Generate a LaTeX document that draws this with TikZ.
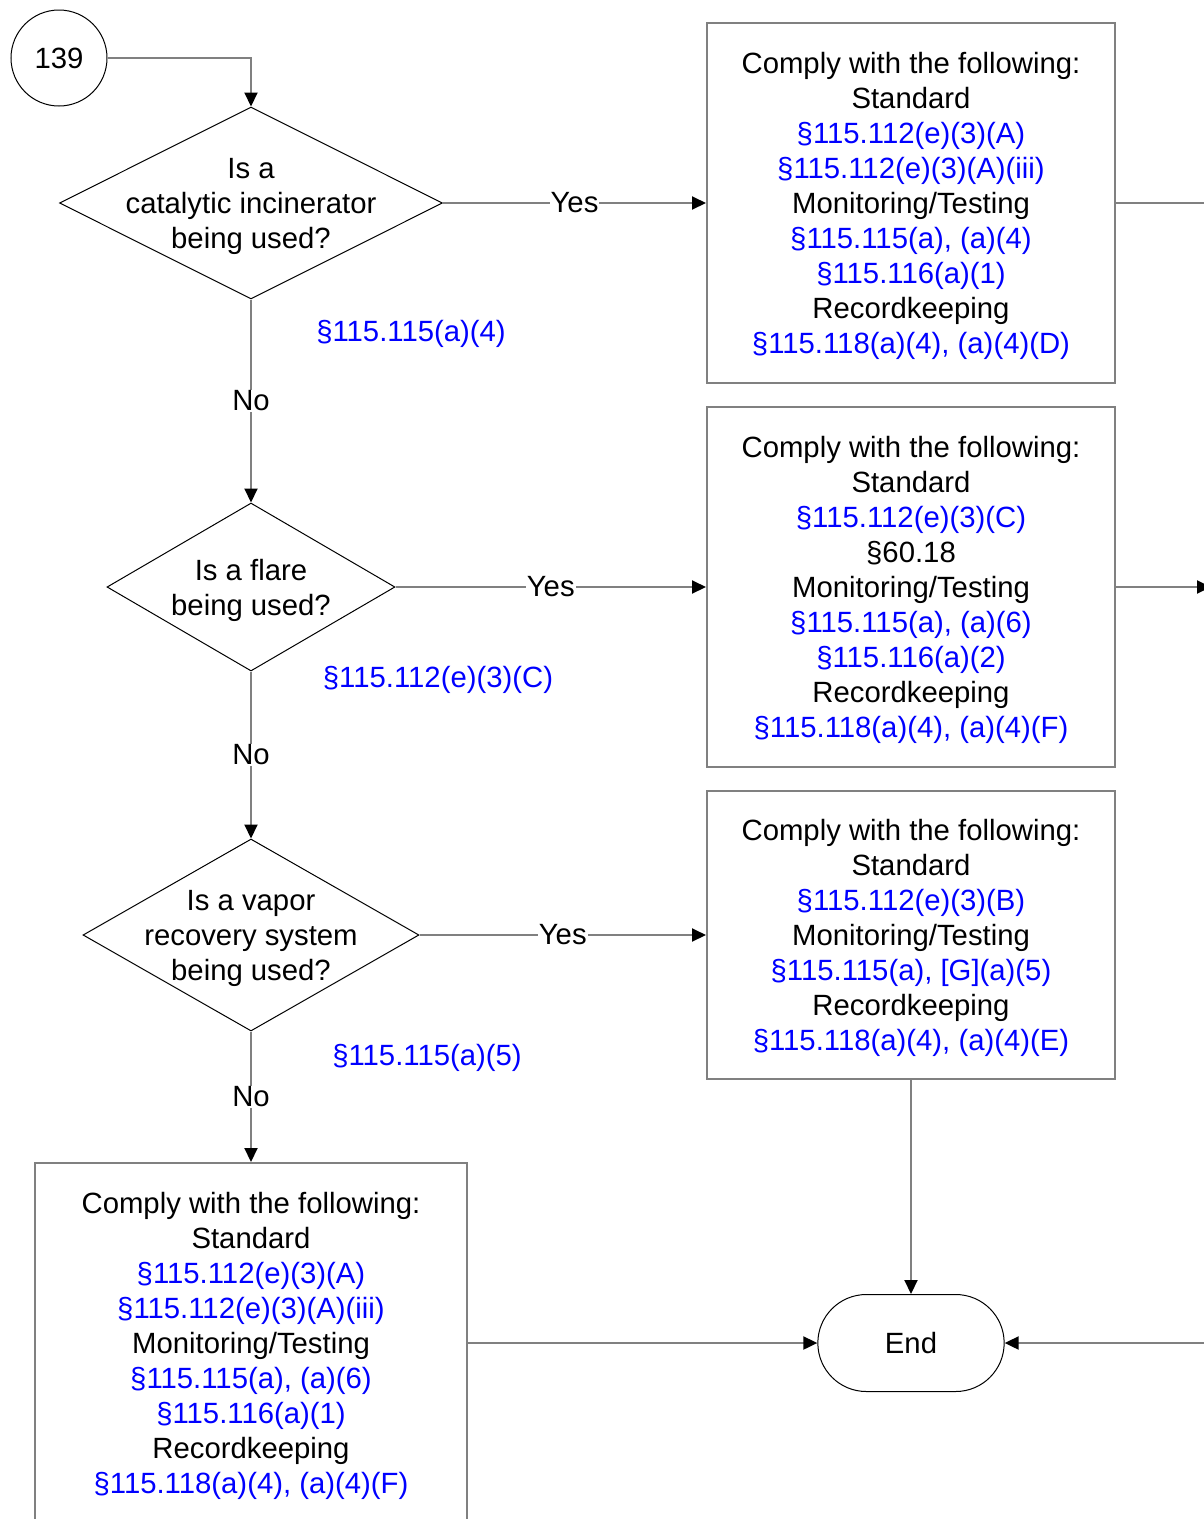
\documentclass[tikz,border=0pt]{standalone}
\usepackage{fontspec}
\setmainfont{Liberation Sans}
\usepackage{tikz}
\usetikzlibrary{arrows.meta,positioning,shapes.geometric,shapes.misc}
\usepackage{xcolor}
\definecolor{refblue}{RGB}{0,0,255}
\definecolor{linegray}{RGB}{128,128,128}
\newcommand{\rf}[1]{\textcolor{refblue}{#1}}
\newcommand{\comply}{\rule{0pt}{27pt}Comply with the following:}

\begin{document}
\begin{tikzpicture}[x=1pt,y=-1pt,>={Triangle[length=14pt,width=13pt,color=black]},
  every node/.style={font={\fontsize{29.3}{35}\selectfont}},
  conn/.style={draw=linegray,line width=2pt},
  decision/.style={diamond,draw=black,line width=1pt,inner sep=0pt},
  qtext/.style={align=center,yshift=-3pt},
  action/.style={rectangle,draw=linegray,line width=2pt,align=center,minimum width=408pt},
  tag/.style={fill=white,inner sep=1pt},
  ref/.style={text=refblue}]
  \useasboundingbox (0,0) rectangle (1204,1519);
  \clip (0,0) rectangle (1204,1519);
  \node[circle,draw=black,line width=1pt,minimum size=96pt] (n139) at (59,58) {139};
  \node[decision,minimum width=383pt,minimum height=192pt,
    label={[qtext]center:Is a\\catalytic incinerator\\being used?}] (q1) at (251,203) {};
  \node[decision,minimum width=288pt,minimum height=168pt,
    label={[qtext]center:Is a flare\\being used?}] (q2) at (251,587) {};
  \node[decision,minimum width=336pt,minimum height=192pt,
    label={[qtext]center:Is a vapor\\recovery system\\being used?}] (q3) at (251,935) {};
  \node[action,minimum height=360pt] (c1) at (911,203) {\comply\\Standard\\\rf{§115.112(e)(3)(A)}\\\rf{§115.112(e)(3)(A)(iii)}\\Monitoring/Testing\\\rf{§115.115(a), (a)(4)}\\\rf{§115.116(a)(1)}\\Recordkeeping\\\rf{§115.118(a)(4), (a)(4)(D)}};
  \node[action,minimum height=360pt] (c2) at (911,587) {\comply\\Standard\\\rf{§115.112(e)(3)(C)}\\§60.18\\Monitoring/Testing\\\rf{§115.115(a), (a)(6)}\\\rf{§115.116(a)(2)}\\Recordkeeping\\\rf{§115.118(a)(4), (a)(4)(F)}};
  \node[action,minimum height=288pt] (c3) at (911,935) {\comply\\Standard\\\rf{§115.112(e)(3)(B)}\\Monitoring/Testing\\\rf{§115.115(a), [G](a)(5)}\\Recordkeeping\\\rf{§115.118(a)(4), (a)(4)(E)}};
  \node[action,minimum width=432pt,minimum height=360pt] (c4) at (251,1343) {\comply\\Standard\\\rf{§115.112(e)(3)(A)}\\\rf{§115.112(e)(3)(A)(iii)}\\Monitoring/Testing\\\rf{§115.115(a), (a)(6)}\\\rf{§115.116(a)(1)}\\Recordkeeping\\\rf{§115.118(a)(4), (a)(4)(F)}};
  \node[rounded rectangle,draw=black,line width=1pt,minimum width=193pt,minimum height=97pt] (stop) at (911,1343) {End};
  \node[ref] (r1) at (411,334) {§115.115(a)(4)};
  \node[ref] (r2) at (438,680) {§115.112(e)(3)(C)};
  \node[ref] (r3) at (427,1058) {§115.115(a)(5)};
  \coordinate (outA) at (1204,203);
  \coordinate (outB) at (1211,587);
  \coordinate (inC) at (1210,1343);
  \draw[conn,->] (n139.east) -| (q1.north);
  \draw[conn,->] (q1.east) -- node[tag] {Yes} (c1.west);
  \draw[conn] (c1.east) -- (outA);
  \draw[conn,->] (q1.south) -- node[tag] {No} (q2.north);
  \draw[conn,->] (q2.east) -- node[tag] {Yes} (c2.west);
  \draw[conn,->] (c2.east) -- (outB);
  \draw[conn,->] (q2.south) -- node[tag] {No} (q3.north);
  \draw[conn,->] (q3.east) -- node[tag] {Yes} (c3.west);
  \draw[conn,->] (q3.south) -- node[tag] {No} (c4.north);
  \draw[conn,->] (c3.south) -- (stop.north);
  \draw[conn,->] (c4.east) -- (stop.west);
  \draw[conn,->] (inC) -- (stop.east);
\end{tikzpicture}
\end{document}
